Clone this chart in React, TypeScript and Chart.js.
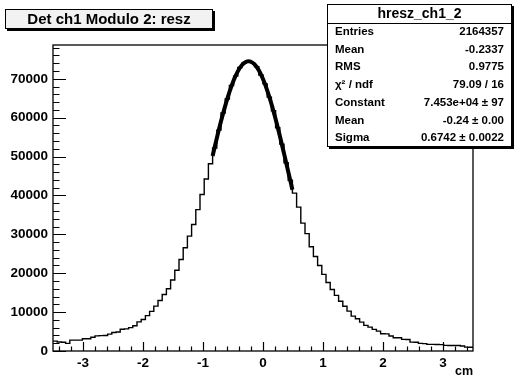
import React, { useEffect, useRef } from 'react';
import { Chart, registerables } from 'chart.js';

Chart.register(...registerables);

// ---------- data ----------
const binLow = -3.5;
const binHigh = 3.5;
const binCounts = [
  2550, 2300, 2250, 1950, 2800, 2800, 2800, 3150, 3150, 3550,
  3900, 3950, 4000, 4350, 4750, 4900, 5600, 5700, 6000, 6500,
  7500, 8100, 9100, 10200, 11550, 13000, 14550, 16000, 18250, 20750,
  23550, 26550, 29550, 32550, 36350, 40250, 44250, 48150, 52200, 56800,
  61200, 64800, 68300, 70700, 72900, 74100, 74600, 74100, 73100, 71000,
  68700, 65300, 61800, 57400, 53200, 48400, 43900, 40600, 37000, 32900,
  30200, 26800, 24300, 22000, 19700, 17600, 15800, 14300, 12800, 11500,
  10250, 8970, 8300, 7430, 6580, 6140, 5550, 5120, 4450, 4400,
  3840, 3420, 3400, 2980, 2950, 2290, 2250, 1950, 1900, 1700,
  1700, 1680, 1650, 1440, 1430, 1420, 1400, 1270, 1000, 980,
];
const fitX = [
  -0.84, -0.77, -0.7, -0.63, -0.56, -0.49, -0.42, -0.35, -0.28, -0.24,
  -0.21, -0.14, -0.07, 0.0, 0.07, 0.14, 0.21, 0.28, 0.35, 0.42, 0.49,
];
const fitY = [
  50160, 54720, 59060, 63050, 66590, 69580, 71920, 73550, 74400, 74530,
  74460, 73720, 72200, 69950, 67050, 63590, 59650, 55360, 50820, 46160, 41470,
];
const yMajorTicks = [0, 10000, 20000, 30000, 40000, 50000, 60000, 70000];
const yMinorStep = 2000;
const yMax = 78700;
const xMajorTicks = [-3, -2, -1, 0, 1, 2, 3];
const xMinorStep = 0.2;

const titleText = 'Det ch1 Modulo 2: resz';
const xTitle = 'cm';
const statsTitle = 'hresz_ch1_2';
const statsNames = ['Entries', 'Mean', 'RMS', 'χ² / ndf', 'Constant', 'Mean', 'Sigma'];
const statsValues = [
  '2164357', '-0.2337', '0.9775', '79.09 / 16', '7.453e+04 ± 97', '-0.24 ± 0.00', '0.6742 ± 0.0022',
];

const FONT = "'Liberation Sans', Arial, Helvetica, sans-serif";

export default function App() {
  const ref = useRef<HTMLCanvasElement | null>(null);

  useEffect(() => {
    const canvas = ref.current;
    if (!canvas) return;
    const nb = binCounts.length;
    const bw = (binHigh - binLow) / nb;
    const histPts = binCounts.map((v, i) => ({ x: binLow + i * bw, y: v }));
    histPts.push({ x: binHigh, y: binCounts[nb - 1] });
    const fitPts = fitX.map((x, i) => ({ x, y: fitY[i] }));

    const yTicks: number[] = [];
    for (let v = 0; v <= yMax; v += yMinorStep) yTicks.push(v);
    const xTicks: number[] = [];
    for (let k = Math.ceil(binLow / xMinorStep); k * xMinorStep <= binHigh + 1e-9; k++) {
      xTicks.push(Math.round(k * xMinorStep * 10) / 10);
    }

    const decor = {
      id: 'rootDecor',
      afterDraw(chart: any) {
        const ctx = chart.ctx as CanvasRenderingContext2D;
        const a = chart.chartArea;
        const xs = chart.scales.x;
        const ys = chart.scales.y;
        ctx.save();
        ctx.strokeStyle = '#000';
        ctx.lineWidth = 1.3;
        // frame
        ctx.strokeRect(a.left, a.top, a.right - a.left, a.bottom - a.top);
        // ticks (inside the frame)
        ctx.lineWidth = 1.2;
        ctx.beginPath();
        for (const v of yTicks) {
          const py = Math.round(ys.getPixelForValue(v)) + 0.5;
          const len = yMajorTicks.includes(v) ? 13 : 6.5;
          ctx.moveTo(a.left, py);
          ctx.lineTo(a.left + len, py);
        }
        for (const v of xTicks) {
          const px = Math.round(xs.getPixelForValue(v)) + 0.5;
          const len = xMajorTicks.includes(v) ? 9 : 4.5;
          ctx.moveTo(px, a.bottom);
          ctx.lineTo(px, a.bottom - len);
        }
        ctx.stroke();

        // x axis title
        ctx.fillStyle = '#000';
        ctx.font = `bold 12.5px ${FONT}`;
        ctx.textAlign = 'right';
        ctx.textBaseline = 'middle';
        ctx.fillText(xTitle, a.right, 372);

        // title box
        const tb = { x: 5, y: 9, w: 208, h: 20 };
        ctx.fillStyle = '#000';
        ctx.fillRect(tb.x + 2, tb.y + 2, tb.w, tb.h);
        ctx.fillStyle = '#f2f2f2';
        ctx.fillRect(tb.x, tb.y, tb.w, tb.h);
        ctx.lineWidth = 1;
        ctx.strokeRect(tb.x + 0.5, tb.y + 0.5, tb.w - 1, tb.h - 1);
        ctx.fillStyle = '#000';
        ctx.font = `bold 15px ${FONT}`;
        ctx.textAlign = 'center';
        ctx.textBaseline = 'middle';
        ctx.fillText(titleText, tb.x + tb.w / 2, tb.y + tb.h / 2 + 1);

        // stats box
        const sb = { x: 327, y: 4, w: 185, h: 143 };
        ctx.fillStyle = '#000';
        ctx.fillRect(sb.x + 2, sb.y + 2, sb.w, sb.h);
        ctx.fillStyle = '#fff';
        ctx.fillRect(sb.x, sb.y, sb.w, sb.h);
        ctx.strokeStyle = '#000';
        ctx.lineWidth = 1;
        ctx.strokeRect(sb.x + 0.5, sb.y + 0.5, sb.w - 1, sb.h - 1);
        const headH = 19;
        ctx.beginPath();
        ctx.moveTo(sb.x, sb.y + headH + 0.5);
        ctx.lineTo(sb.x + sb.w, sb.y + headH + 0.5);
        ctx.stroke();
        ctx.fillStyle = '#000';
        ctx.font = `bold 14px ${FONT}`;
        ctx.textAlign = 'center';
        ctx.fillText(statsTitle, sb.x + sb.w / 2, sb.y + headH / 2 + 1);
        const rowH = (sb.h - headH) / statsNames.length;
        ctx.font = `bold 11.5px ${FONT}`;
        statsNames.forEach((n, i) => {
          const cy = sb.y + headH + rowH * (i + 0.5);
          ctx.textAlign = 'left';
          ctx.fillText(n, sb.x + 8, cy);
          ctx.textAlign = 'right';
          ctx.fillText(statsValues[i], sb.x + sb.w - 8, cy);
        });
        ctx.restore();
      },
    };

    const tickFont = { family: FONT, weight: 'bold' as const, size: 13.5 };

    const chart = new Chart(canvas, {
      type: 'line',
      data: {
        datasets: [
          {
            data: histPts,
            stepped: true,
            borderColor: '#000',
            borderWidth: 1.4,
            pointRadius: 0,
            fill: false,
          },
          {
            data: fitPts,
            borderColor: '#000',
            borderWidth: 4,
            pointRadius: 0,
            cubicInterpolationMode: 'monotone',
            fill: false,
          },
        ],
      },
      options: {
        animation: false,
        responsive: false,
        devicePixelRatio: 1,
        layout: { padding: { top: 45, right: 42, left: 0, bottom: 0 } },
        plugins: { legend: { display: false }, tooltip: { enabled: false }, title: { display: false } },
        scales: {
          x: {
            type: 'linear',
            min: binLow,
            max: binHigh,
            grid: { display: false, drawTicks: false },
            border: { display: false },
            afterFit: (s: any) => {
              s.height = 29;
            },
            afterBuildTicks: (s: any) => {
              s.ticks = xTicks.map((v) => ({ value: v }));
            },
            ticks: {
              autoSkip: false,
              maxRotation: 0,
              padding: 4,
              color: '#000',
              font: tickFont,
              callback: (v: any) => (xMajorTicks.includes(Number(v)) ? String(v) : ''),
            },
          },
          y: {
            type: 'linear',
            min: 0,
            max: yMax,
            grid: { display: false, drawTicks: false },
            border: { display: false },
            afterFit: (s: any) => {
              s.width = 53;
            },
            afterBuildTicks: (s: any) => {
              s.ticks = yTicks.map((v) => ({ value: v }));
            },
            ticks: {
              autoSkip: false,
              padding: 5,
              color: '#000',
              font: tickFont,
              callback: (v: any) => (yMajorTicks.includes(Number(v)) ? String(v) : ''),
            },
          },
        },
      },
      plugins: [decor],
    });
    return () => chart.destroy();
  }, []);

  return (
    <div style={{ position: 'absolute', left: 0, top: 0, width: 515, height: 380, background: '#fff' }}>
      <canvas ref={ref} width={515} height={380} style={{ display: 'block' }} />
    </div>
  );
}
